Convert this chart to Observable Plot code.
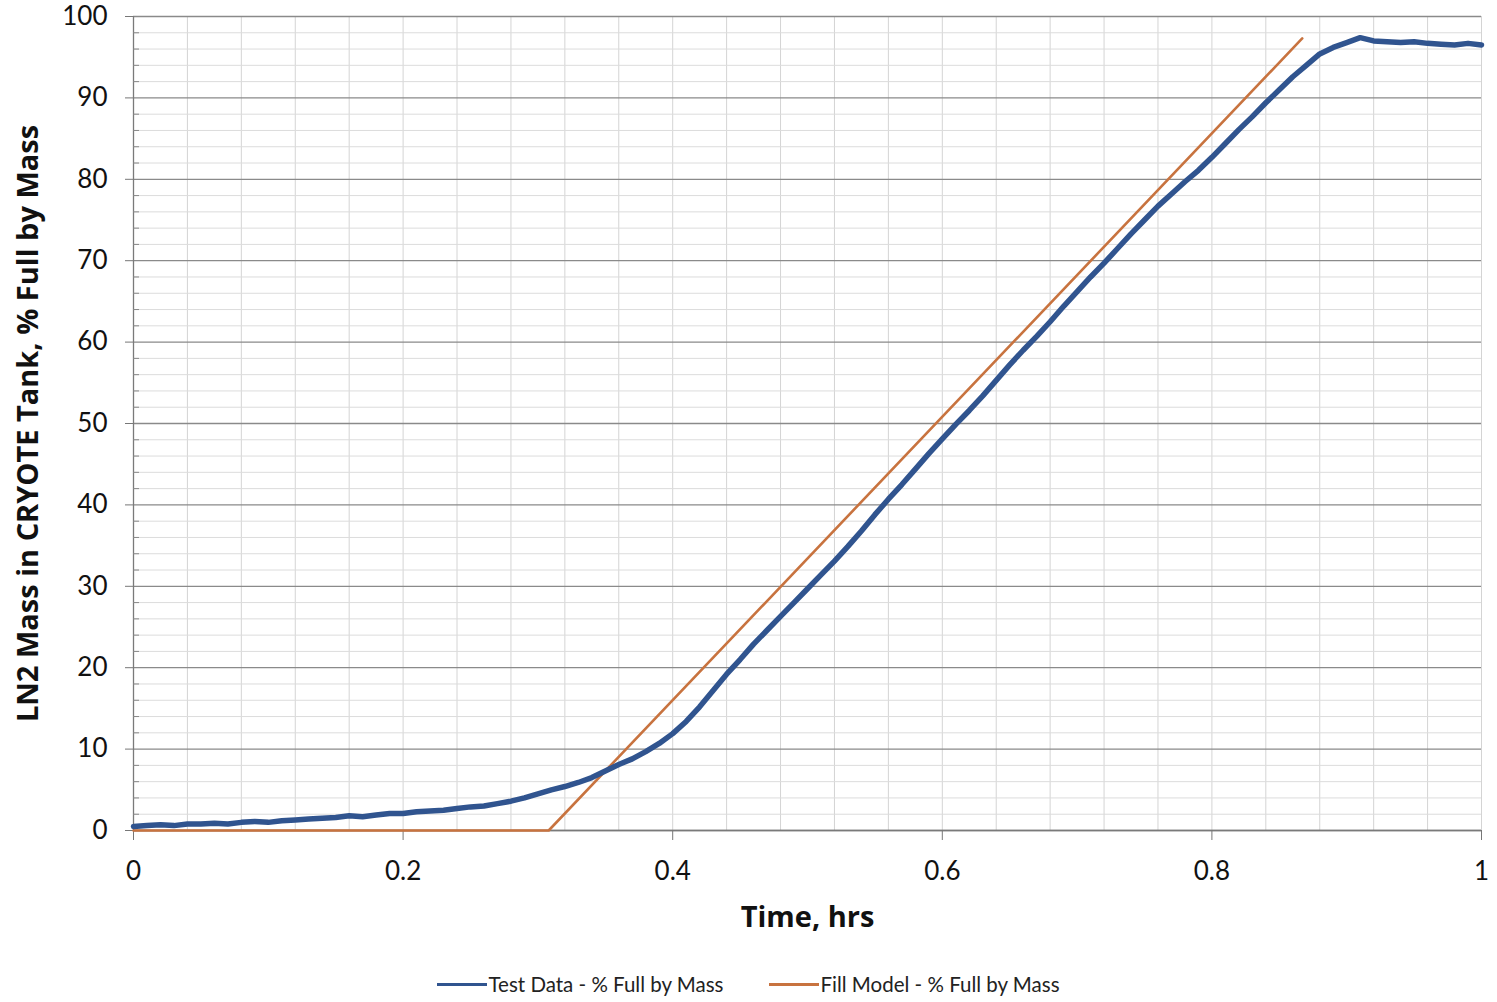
<!DOCTYPE html>
<html>
<head>
<meta charset="utf-8">
<script src="https://cdn.jsdelivr.net/npm/d3@7"></script>
<script src="https://cdn.jsdelivr.net/npm/@observablehq/plot@0.6"></script>
<style>
  html, body { margin: 0; padding: 0; background: #fff; }
  #wrap { position: relative; width: 1497px; height: 1002px; font-family: Lato, "Open Sans", sans-serif; }
  #legend { position: absolute; left: 0; top: 972px; width: 1497px; display: flex; justify-content: center; gap: 46px; font-size: 20.5px; color: #222; }
  .item { display: flex; align-items: center; }
  .swatch { display: inline-block; width: 50px; height: 3px; margin-right: 1px; }
</style>
</head>
<body>
<div id="wrap"><div id="chart"></div><div id="legend"></div></div>
<script>
// Time, hrs
const testTime = [0.00,0.01,0.02,0.03,0.04,0.05,0.06,0.07,0.08,0.09,0.10,0.11,0.12,0.13,0.14,0.15,0.16,0.17,0.18,0.19,0.20,0.21,0.22,0.23,0.24,0.25,0.26,0.27,0.28,0.29,0.30,0.31,0.32,0.33,0.34,0.35,0.36,0.37,0.38,0.39,0.40,0.41,0.42,0.43,0.44,0.45,0.46,0.47,0.48,0.49,0.50,0.51,0.52,0.53,0.54,0.55,0.56,0.57,0.58,0.59,0.60,0.61,0.62,0.63,0.64,0.65,0.66,0.67,0.68,0.69,0.70,0.71,0.72,0.73,0.74,0.75,0.76,0.77,0.78,0.79,0.80,0.81,0.82,0.83,0.84,0.85,0.86,0.87,0.88,0.89,0.90,0.91,0.92,0.93,0.94,0.95,0.96,0.97,0.98,0.99,1.00];
// Test Data - % Full by Mass
const testMass = [0.5,0.6,0.7,0.6,0.8,0.8,0.9,0.8,1.0,1.1,1.0,1.2,1.3,1.4,1.5,1.6,1.8,1.7,1.9,2.1,2.1,2.3,2.4,2.5,2.7,2.9,3.0,3.3,3.6,4.0,4.5,5.0,5.4,5.9,6.5,7.3,8.1,8.8,9.7,10.7,11.9,13.4,15.2,17.2,19.2,21.0,22.9,24.6,26.3,28.0,29.7,31.4,33.1,34.9,36.8,38.8,40.7,42.5,44.4,46.3,48.1,49.9,51.6,53.4,55.3,57.2,59.0,60.7,62.5,64.4,66.2,68.0,69.7,71.5,73.3,75.0,76.7,78.2,79.7,81.1,82.7,84.4,86.1,87.7,89.4,91.0,92.6,94.0,95.4,96.2,96.8,97.4,97.0,96.9,96.8,96.9,96.7,96.6,96.5,96.7,96.5];
// Fill Model - % Full by Mass
const modelTime = [0.0, 0.308, 0.867];
const modelMass = [0.0, 0.0, 97.3];

const xMajorTicks = [0, 0.2, 0.4, 0.6, 0.8, 1];
const xGridTicks = [0.04,0.08,0.12,0.16,0.2,0.24,0.28,0.32,0.36,0.4,0.44,0.48,0.52,0.56,0.6,0.64,0.68,0.72,0.76,0.8,0.84,0.88,0.92,0.96,1];
const yMajorTicks = [0,10,20,30,40,50,60,70,80,90,100];
const yMinorTicks = [2,4,6,8,12,14,16,18,22,24,26,28,32,34,36,38,42,44,46,48,52,54,56,58,62,64,66,68,72,74,76,78,82,84,86,88,92,94,96,98];

const seriesNames = ["Test Data - % Full by Mass", "Fill Model - % Full by Mass"];
const seriesColors = ["#30548f", "#c8733f"];
const xTitle = "Time, hrs";
const yTitle = "LN2 Mass in CRYOTE Tank, % Full by Mass";

const testData = testTime.map((t, i) => ({t, v: testMass[i]}));
const modelData = modelTime.map((t, i) => ({t, v: modelMass[i]}));

const chart = Plot.plot({
  width: 1497,
  height: 960,
  marginLeft: 133,
  marginRight: 16,
  marginTop: 16,
  marginBottom: 130,
  style: {fontFamily: "Lato, 'Open Sans', sans-serif", background: "#fff"},
  x: {domain: [0, 1]},
  y: {domain: [0, 100]},
  marks: [
    Plot.ruleX(xGridTicks, {stroke: "#d4d4d4", strokeWidth: 1}),
    Plot.ruleY(yMinorTicks, {stroke: "#dcdcdc", strokeWidth: 1}),
    Plot.ruleY(yMajorTicks, {stroke: "#8a8a8a", strokeWidth: 1.3}),
    Plot.ruleX([0], {stroke: "#7a7a7a", strokeWidth: 1.3}),
    Plot.ruleY([0], {stroke: "#7a7a7a", strokeWidth: 1.3}),
    Plot.axisY({ticks: yMajorTicks, tickSize: 8, tickPadding: 18, fontSize: 26, tickFormat: d => String(d), label: null, stroke: "#777", color: "#111"}),
    Plot.axisY({ticks: yMinorTicks, tickSize: 6, dx: 6, text: null, label: null, stroke: "#888"}),
    Plot.axisX({ticks: xMajorTicks, tickSize: 10, tickPadding: 21, fontSize: 26, tickFormat: d => String(d), label: null, stroke: "#777", color: "#111"}),
    Plot.line(modelData, {x: "t", y: "v", stroke: seriesColors[1], strokeWidth: 2.6}),
    Plot.line(testData, {x: "t", y: "v", stroke: seriesColors[0], strokeWidth: 5.5, curve: "linear"}),
    Plot.text([xTitle], {frameAnchor: "bottom", dy: 87, lineAnchor: "middle", textAnchor: "middle", fontSize: 29, fontWeight: "bold", fontFamily: "'Open Sans', sans-serif", fill: "#111"}),
    Plot.text([yTitle], {frameAnchor: "left", dx: -105, rotate: -90, lineAnchor: "middle", textAnchor: "middle", fontSize: 29, fontWeight: "bold", fontFamily: "'Open Sans', sans-serif", fill: "#111"})
  ]
});
document.getElementById("chart").appendChild(chart);

const legend = document.getElementById("legend");
seriesNames.forEach((name, i) => {
  const item = document.createElement("div");
  item.className = "item";
  const sw = document.createElement("span");
  sw.className = "swatch";
  sw.style.background = seriesColors[i];
  const label = document.createElement("span");
  label.textContent = name;
  item.appendChild(sw);
  item.appendChild(label);
  legend.appendChild(item);
});
</script>
</body>
</html>
